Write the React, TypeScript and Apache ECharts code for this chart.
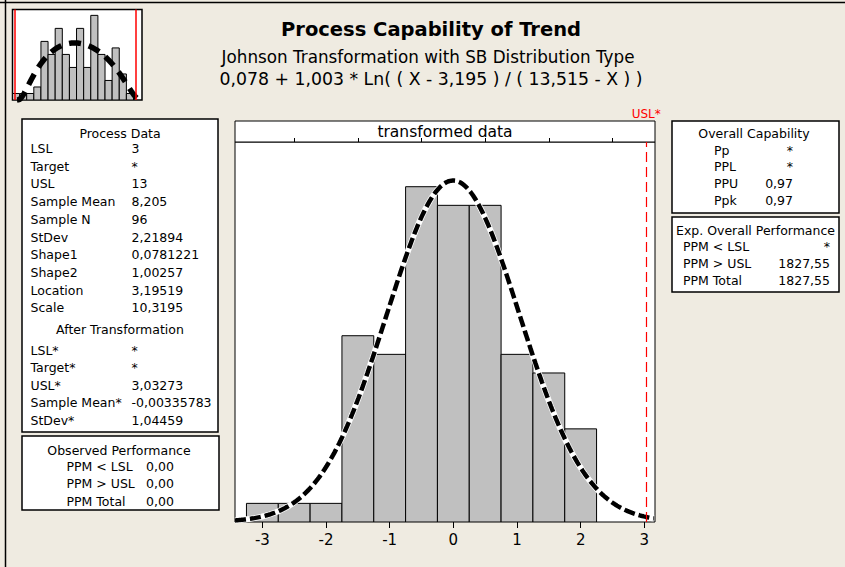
import React, { useEffect, useRef } from "react";
import * as echarts from "echarts";

// ---- Main histogram (transformed data) ----
const binCenters = [-3, -2.5, -2, -1.5, -1, -0.5, 0, 0.5, 1, 1.5, 2];
const binCounts = [1, 1, 1, 10, 9, 18, 17, 17, 9, 8, 5];
const binWidth = 0.5;
const majorTicks = [-3, -2, -1, 0, 1, 2, 3];
const minorTicks = [-2.5, -1.5, -0.5, 0.5, 1.5, 2.5];
const xMin = -3.43;
const xMax = 3.168;
const yMax = 20.4;

// ---- Thumbnail histogram (original data) ----
const thumbCounts = [1, 1, 1, 2, 9, 7, 11, 7, 5, 11, 5, 13, 7, 3, 8, 4, 1];
const thumbBinStart = 2.84;
const thumbBinWidth = 0.587;
const thumbXMin = 2.843;
const thumbXMax = 13.52;
const thumbYMax = 13.9;

// ---- Parameters ----
const lsl = 3;
const usl = 13;
const uslStar = 3.03273;
const sampleN = 96;
const meanStar = -0.00335783;
const stdevStar = 1.04459;
const shape1 = 0.0781221;
const shape2 = 1.00257;
const location = 3.19519;
const scale = 10.3195;

// ---- Text tables ----
const processLabels = ["LSL", "Target", "USL", "Sample Mean", "Sample N", "StDev", "Shape1", "Shape2", "Location", "Scale"];
const processValues = ["3", "*", "13", "8,205", "96", "2,21894", "0,0781221", "1,00257", "3,19519", "10,3195"];
const afterLabels = ["LSL*", "Target*", "USL*", "Sample Mean*", "StDev*"];
const afterValues = ["*", "*", "3,03273", "-0,00335783", "1,04459"];
const observedLabels = ["PPM < LSL", "PPM > USL", "PPM Total"];
const observedValues = ["0,00", "0,00", "0,00"];
const capLabels = ["Pp", "PPL", "PPU", "Ppk"];
const capValues = ["*", "*", "0,97", "0,97"];
const expLabels = ["PPM < LSL", "PPM > USL", "PPM Total"];
const expValues = ["*", "1827,55", "1827,55"];

const FONT = '"DejaVu Sans", Verdana, sans-serif';

function phi(u: number) {
  return Math.exp(-0.5 * u * u) / Math.sqrt(2 * Math.PI);
}

// fitted normal on transformed data (scaled to counts)
function normalCurve() {
  const pts: number[][] = [];
  for (let x = xMin; x <= xMax + 1e-9; x += 0.02) {
    const y = (sampleN * binWidth * phi((x - meanStar) / stdevStar)) / stdevStar;
    pts.push([x, y]);
  }
  return pts;
}

// fitted Johnson SB density on original data (scaled to counts)
function sbCurve() {
  const pts: number[][] = [];
  for (let x = location + 0.02; x < location + scale - 0.01; x += 0.05) {
    const a = x - location;
    const b = location + scale - x;
    const z = shape1 + shape2 * Math.log(a / b);
    const dz = (shape2 * scale) / (a * b);
    pts.push([x, sampleN * thumbBinWidth * phi(z) * dz]);
  }
  return pts;
}

function txt(text: string, x: number, y: number, extra: any = {}) {
  const align = extra.align || "left";
  return {
    type: "text",
    x,
    y,
    silent: true,
    style: {
      text,
      fill: extra.fill || "#000",
      fontSize: extra.fontSize || 12.5,
      fontFamily: FONT,
      fontWeight: extra.fontWeight || "normal",
      align,
      textAlign: align,
      verticalAlign: "middle",
      textVerticalAlign: "middle",
    },
  };
}

function box(x: number, y: number, w: number, h: number) {
  return {
    type: "rect",
    silent: true,
    shape: { x, y, width: w, height: h },
    style: { fill: "#fff", stroke: "#000", lineWidth: 1.5 },
  };
}

const histRender = (params: any, api: any) => {
  const p0 = api.coord([api.value(0), api.value(2)]);
  const p1 = api.coord([api.value(1), 0]);
  return {
    type: "rect",
    shape: { x: p0[0], y: p0[1], width: p1[0] - p0[0], height: p1[1] - p0[1] },
    style: { fill: "#C0C0C0", stroke: "#000", lineWidth: 1 },
  };
};

export default function App() {
  const ref = useRef<HTMLDivElement>(null);
  useEffect(() => {
    if (!ref.current) return;
    const chart = echarts.init(ref.current, undefined, { renderer: "svg" });

    const mainBins = binCenters.map((c, i) => [c - binWidth / 2, c + binWidth / 2, binCounts[i]]);
    const thumbBins = thumbCounts.map((n, i) => [
      thumbBinStart + i * thumbBinWidth,
      thumbBinStart + (i + 1) * thumbBinWidth,
      n,
    ]);
    const curve = normalCurve();
    const thumbCurve = sbCurve();

    const graphics: any[] = [];
    // window edges
    graphics.push({ type: "line", silent: true, shape: { x1: 0, y1: 2.5, x2: 845, y2: 2.5 }, style: { stroke: "#000", lineWidth: 1.5 } });
    graphics.push({ type: "line", silent: true, shape: { x1: 5.5, y1: 0, x2: 5.5, y2: 567 }, style: { stroke: "#000", lineWidth: 1.5 } });

    // titles
    graphics.push(txt("Process Capability of Trend", 431, 29, { align: "center", fontSize: 19.5, fontWeight: "bold" }));
    graphics.push(txt("Johnson Transformation with SB Distribution Type", 428, 57, { align: "center", fontSize: 16.8 }));
    graphics.push(txt("0,078 + 1,003 * Ln( ( X - 3,195 ) / ( 13,515 - X ) )", 431, 79, { align: "center", fontSize: 17.3 }));

    // header strip of main plot
    graphics.push({ type: "rect", silent: true, shape: { x: 235, y: 121, width: 420, height: 21 }, style: { fill: "#fff", stroke: "#000", lineWidth: 1 } });
    graphics.push(txt("transformed data", 445, 131.5, { align: "center", fontSize: 15.5 }));

    // Process data box
    graphics.push(box(22, 119, 196, 313));
    graphics.push(txt("Process Data", 120, 133, { align: "center" }));
    processLabels.forEach((l, i) => {
      graphics.push(txt(l, 30.5, 148.5 + 17.7 * i));
      graphics.push(txt(processValues[i], 131.5, 148.5 + 17.7 * i));
    });
    graphics.push(txt("After Transformation", 120, 329, { align: "center" }));
    afterLabels.forEach((l, i) => {
      graphics.push(txt(l, 30.5, 350 + 17.6 * i));
      graphics.push(txt(afterValues[i], 131.5, 350 + 17.6 * i));
    });

    // Observed performance box
    graphics.push(box(22, 436, 197, 74));
    graphics.push(txt("Observed Performance", 119, 450, { align: "center" }));
    observedLabels.forEach((l, i) => {
      graphics.push(txt(l, 66.5, 466.5 + 17.3 * i));
      graphics.push(txt(observedValues[i], 146, 466.5 + 17.3 * i));
    });

    // Overall capability box
    graphics.push(box(672, 121, 167, 92));
    graphics.push(txt("Overall Capability", 754, 133, { align: "center" }));
    capLabels.forEach((l, i) => {
      graphics.push(txt(l, 714, 150 + 16.8 * i));
      graphics.push(txt(capValues[i], 793, 150 + 16.8 * i, { align: "right" }));
    });

    // Expected overall performance box
    graphics.push(box(672, 217, 167, 75));
    graphics.push(txt("Exp. Overall Performance", 755.5, 230, { align: "center" }));
    expLabels.forEach((l, i) => {
      graphics.push(txt(l, 683, 246 + 17 * i));
      graphics.push(txt(expValues[i], 830, 246 + 17 * i, { align: "right" }));
    });

    const option: any = {
      animation: false,
      backgroundColor: "#EFEBE1",
      grid: [
        { left: 235, right: 190, top: 142, bottom: 45, show: true, backgroundColor: "#fff", borderColor: "#000", borderWidth: 1 },
        { left: 12.5, right: 703, top: 9.5, bottom: 467, show: true, backgroundColor: "#fff", borderColor: "#000", borderWidth: 1.5 },
      ],
      xAxis: [
        {
          type: "value",
          gridIndex: 0,
          min: xMin,
          max: xMax,
          axisLine: { show: false },
          splitLine: { show: false },
          axisTick: { show: true, customValues: majorTicks, length: 6, lineStyle: { color: "#000", width: 1 } },
          axisLabel: { show: true, customValues: majorTicks, fontSize: 15, color: "#000", fontFamily: FONT, margin: 10 },
        },
        {
          type: "value",
          gridIndex: 0,
          min: xMin,
          max: xMax,
          axisLine: { show: false },
          splitLine: { show: false },
          axisTick: { show: true, customValues: minorTicks, length: 4, lineStyle: { color: "#000", width: 1 } },
          axisLabel: { show: false },
        },
        {
          type: "value",
          gridIndex: 1,
          min: thumbXMin,
          max: thumbXMax,
          show: false,
        },
      ],
      yAxis: [
        { type: "value", gridIndex: 0, min: 0, max: yMax, show: false },
        { type: "value", gridIndex: 1, min: 0, max: thumbYMax, show: false },
      ],
      graphic: { elements: graphics },
      series: [
        {
          type: "custom",
          xAxisIndex: 0,
          yAxisIndex: 0,
          renderItem: histRender,
          encode: { x: [0, 1], y: 2 },
          data: mainBins,
          clip: true,
          silent: true,
          markLine: {
            silent: true,
            symbol: "none",
            data: [{ xAxis: uslStar }],
            lineStyle: { color: "#FF0000", type: [10, 5], width: 1.2 },
            label: { show: true, formatter: "USL*", position: "end", color: "#FF0000", fontSize: 12, fontFamily: FONT, distance: 22 },
          },
        },
        {
          type: "line",
          xAxisIndex: 0,
          yAxisIndex: 0,
          data: curve,
          showSymbol: false,
          silent: true,
          lineStyle: { color: "#fff", width: 6 },
        },
        {
          type: "line",
          xAxisIndex: 0,
          yAxisIndex: 0,
          data: curve,
          showSymbol: false,
          silent: true,
          lineStyle: { color: "#000", width: 4.5, type: [11, 4] },
        },
        {
          type: "custom",
          xAxisIndex: 2,
          yAxisIndex: 1,
          renderItem: histRender,
          encode: { x: [0, 1], y: 2 },
          data: thumbBins,
          clip: true,
          silent: true,
          markLine: {
            silent: true,
            symbol: "none",
            data: [{ xAxis: lsl }, { xAxis: usl }],
            lineStyle: { color: "#FF0000", type: "solid", width: 1.5 },
            label: { show: false },
          },
        },
        {
          type: "line",
          xAxisIndex: 2,
          yAxisIndex: 1,
          data: thumbCurve,
          showSymbol: false,
          silent: true,
          lineStyle: { color: "#000", width: 5.5, type: [12, 8] },
        },
      ],
    };
    chart.setOption(option);
    return () => chart.dispose();
  }, []);
  return <div ref={ref} style={{ position: "fixed", left: 0, top: 0, width: 845, height: 567 }} />;
}
